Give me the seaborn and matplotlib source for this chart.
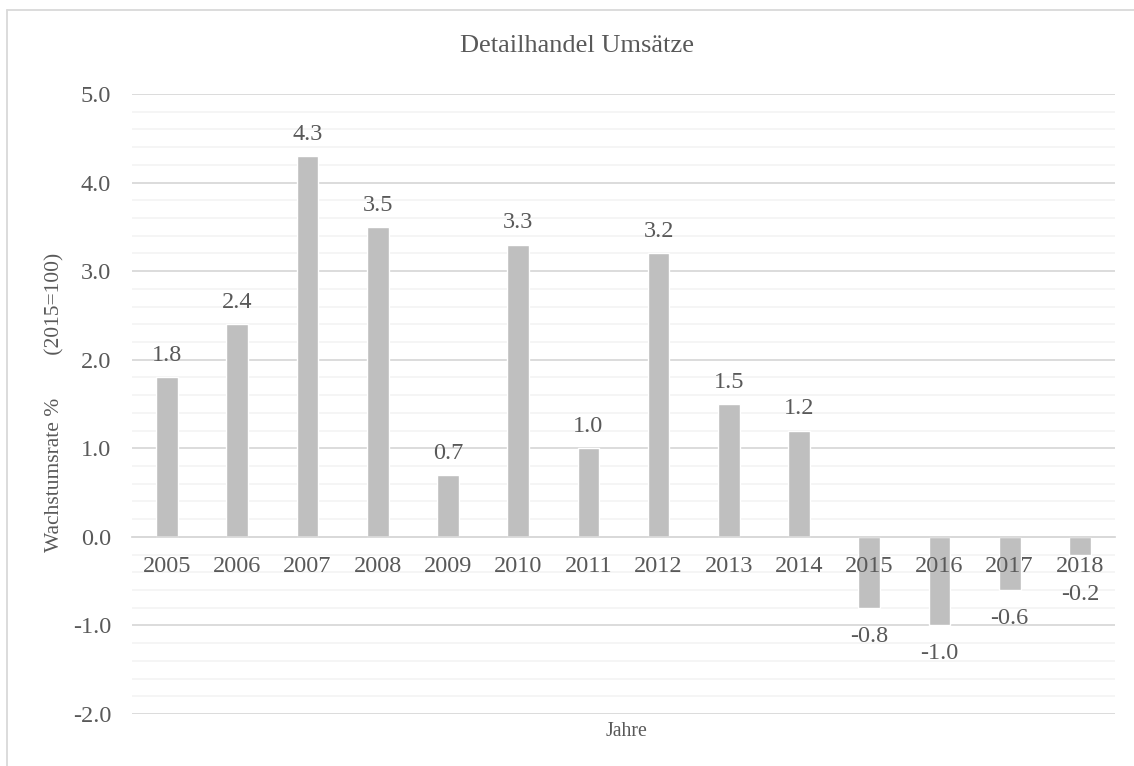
import matplotlib
matplotlib.use("Agg")
import matplotlib.pyplot as plt
from matplotlib.lines import Line2D
from matplotlib.ticker import MultipleLocator, FixedLocator
import seaborn as sns
import pandas as pd

years = ["2005", "2006", "2007", "2008", "2009", "2010", "2011",
         "2012", "2013", "2014", "2015", "2016", "2017", "2018"]
values = [1.8, 2.4, 4.3, 3.5, 0.7, 3.3, 1.0, 3.2, 1.5, 1.2, -0.8, -1.0, -0.6, -0.2]
y_ticks = [-2.0, -1.0, 0.0, 1.0, 2.0, 3.0, 4.0, 5.0]
title = "Detailhandel Umsätze"
y_label = "Wachstumsrate %        (2015=100)"
x_label = "Jahre"

sns.set_style("white")
plt.rcParams["font.family"] = ["Liberation Serif", "DejaVu Serif"]

TEXT = "#595959"
MAJOR = "#d9d9d9"
MINOR = "#f2f2f2"
FS = 17.5

df = pd.DataFrame({"Jahr": years, "Wert": values})

fig = plt.figure(figsize=(11.34, 7.66), dpi=100)
ax = fig.add_axes([132 / 1134, 1 - 714 / 766, (1115 - 132) / 1134, (714 - 94) / 766])

sns.barplot(data=df, x="Jahr", y="Wert", order=years, color="#bfbfbf",
            saturation=1, width=0.31, ax=ax, zorder=2)

ax.set_ylim(-2.0, 5.0)
ax.set_xlim(-0.5, len(years) - 0.5)
ax.set_yticks(y_ticks)
ax.set_yticklabels([f"{v:.1f}" for v in y_ticks])
ax.yaxis.set_minor_locator(MultipleLocator(0.2))
ax.set_axisbelow(True)
ax.grid(axis="y", which="major", color=MAJOR, linewidth=1.3, zorder=0)
ax.grid(axis="y", which="minor", color=MINOR, linewidth=1.1, zorder=0)
ax.grid(axis="x", visible=False)

for s in ["top", "right", "left"]:
    ax.spines[s].set_visible(False)
ax.spines["bottom"].set_position(("data", 0))
ax.spines["bottom"].set_color(MAJOR)
ax.spines["bottom"].set_linewidth(1.3)
ax.spines["bottom"].set_zorder(3)

ax.xaxis.set_minor_locator(FixedLocator([i - 0.5 for i in range(len(years) + 1)]))
ax.tick_params(axis="x", which="major", length=0, pad=14, labelsize=FS, labelcolor=TEXT)
ax.tick_params(axis="x", which="minor", length=5, width=1.3, color=MAJOR, direction="out")
ax.tick_params(axis="y", which="both", length=0, pad=15, labelsize=FS, labelcolor=TEXT)
ax.xaxis.set_zorder(5)

ax.set_xlabel("")
ax.set_ylabel("")

cont = ax.containers[0]
ax.bar_label(cont, labels=[f"{v:.1f}" if v >= 0 else "" for v in values], padding=8,
             fontsize=FS, color=TEXT)
neg_texts = ax.bar_label(cont, labels=[f"{v:.1f}" if v < 0 else "" for v in values],
                         padding=13, fontsize=FS, color=TEXT)
# small negative labels sit clear of the year labels, pushed further down
for ann, v in zip(neg_texts, values):
    if -0.4 < v < 0:
        ann.xyann = (0, -21)

fig.text(577 / 1134, 1 - 46 / 766, title, ha="center", va="center",
         fontsize=19, color=TEXT)
fig.text(55 / 1134, 1 - 402 / 766, y_label, ha="center", va="center",
         rotation=90, fontsize=15.5, color=TEXT)
fig.text(626 / 1134, 1 - 731 / 766, x_label, ha="center", va="center",
         fontsize=14.2, color=TEXT)

# outer chart frame
fig.add_artist(Line2D([7 / 1134, 7 / 1134], [1 - 10 / 766, 0], transform=fig.transFigure,
                      color=MAJOR, linewidth=1.3))
fig.add_artist(Line2D([7 / 1134, 1], [1 - 10 / 766, 1 - 10 / 766], transform=fig.transFigure,
                      color=MAJOR, linewidth=1.3))

fig.savefig("out.png", dpi=100, facecolor="white")
